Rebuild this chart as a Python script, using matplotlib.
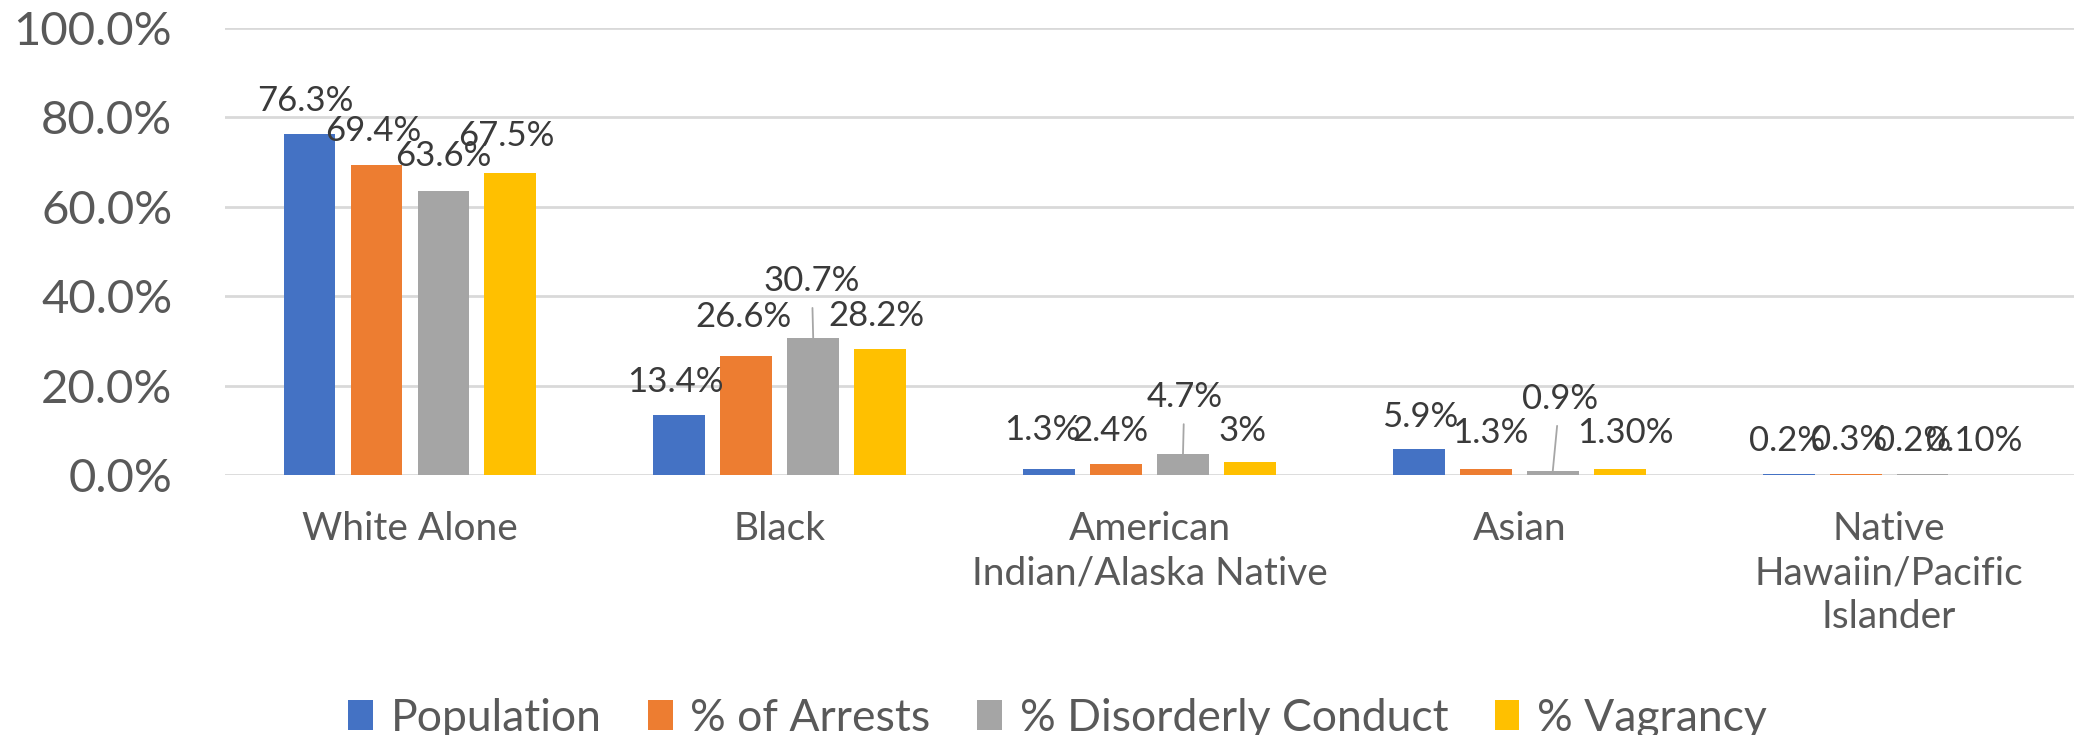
import numpy as np
import matplotlib.pyplot as plt
from matplotlib.ticker import FuncFormatter

plt.rcParams['font.family'] = ['Lato', 'DejaVu Sans']

categories = ["White Alone", "Black", "American\nIndian/Alaska Native", "Asian",
              "Native\nHawaiin/Pacific\nIslander"]
series = ["Population", "% of Arrests", "% Disorderly Conduct", "% Vagrancy"]
population = [76.3, 13.4, 1.3, 5.9, 0.2]
arrests = [69.4, 26.6, 2.4, 1.3, 0.3]
disorderly = [63.6, 30.7, 4.7, 0.9, 0.2]
vagrancy = [67.5, 28.2, 3.0, 1.3, 0.1]
population_labels = ["76.3%", "13.4%", "1.3%", "5.9%", "0.2%"]
arrests_labels = ["69.4%", "26.6%", "2.4%", "1.3%", "0.3%"]
disorderly_labels = ["63.6%", "30.7%", "4.7%", "0.9%", "0.2%"]
vagrancy_labels = ["67.5%", "28.2%", "3%", "1.30%", "0.10%"]
yticks = [0, 20, 40, 60, 80, 100]

colors = ['#4472C4', '#ED7D31', '#A5A5A5', '#FFC000']
values = [population, arrests, disorderly, vagrancy]
labels = [population_labels, arrests_labels, disorderly_labels, vagrancy_labels]

# label offsets in points (dx, dy) from bar top, as placed in the original
offsets = [
    [(-3, 24), (-3, 24), (-5, 28), (1, 23), (-1, 24)],
    [(-2, 24), (-2, 28), (-4, 24), (3, 26), (-5, 24)],
    [(0, 25), (-1, 41), (1, 41), (5, 52), (-7, 24)],
    [(-3, 27), (-3, 24), (-5, 22), (4, 26), (-11, 24)],
]
leaders = {(2, 1), (2, 2), (2, 3)}

fig = plt.figure(figsize=(20.74, 7.35), dpi=100)
ax = fig.add_axes([0.1085, 0.3537, 0.8915, 0.6083])

x = np.arange(len(categories))
step = 0.181
width = 0.14
for i, (vals, c, name) in enumerate(zip(values, colors, series)):
    bars = ax.bar(x + (i - 1.5) * step, vals, width, color=c, label=name, zorder=3)
    for j, b in enumerate(bars):
        dx, dy = offsets[i][j]
        kw = {}
        if (i, j) in leaders:
            kw['arrowprops'] = dict(arrowstyle='-', color='#a6a6a6', lw=1.3,
                                    shrinkA=6, shrinkB=0)
        ax.annotate(labels[i][j], (b.get_x() + b.get_width() / 2, b.get_height()),
                    xytext=(dx, dy), textcoords='offset points', ha='center',
                    va='center', fontsize=25, color='#3a3a3a', zorder=4, **kw)

ax.set_xlim(-0.5, len(categories) - 0.5)
ax.set_ylim(0, 100)
ax.set_yticks(yticks)
ax.yaxis.set_major_formatter(FuncFormatter(lambda v, p: f"{v:.1f}%"))
ax.set_xticks(x)
ax.set_xticklabels(categories, linespacing=1.28)
ax.tick_params(axis='y', length=0, pad=38, labelsize=34, labelcolor='#595959')
ax.tick_params(axis='x', length=0, pad=26, labelsize=28, labelcolor='#595959')
ax.grid(axis='y', color='#d9d9d9', lw=2, zorder=0)
for s in ax.spines.values():
    s.set_visible(False)

fig.legend(loc='lower center', bbox_to_anchor=(0.51, -0.035), ncol=4, frameon=False,
           fontsize=32, labelcolor='#595959', handlelength=0.55, handleheight=0.65,
           handletextpad=0.4, columnspacing=1.05, borderpad=0)

fig.savefig('out.png', dpi=100)
